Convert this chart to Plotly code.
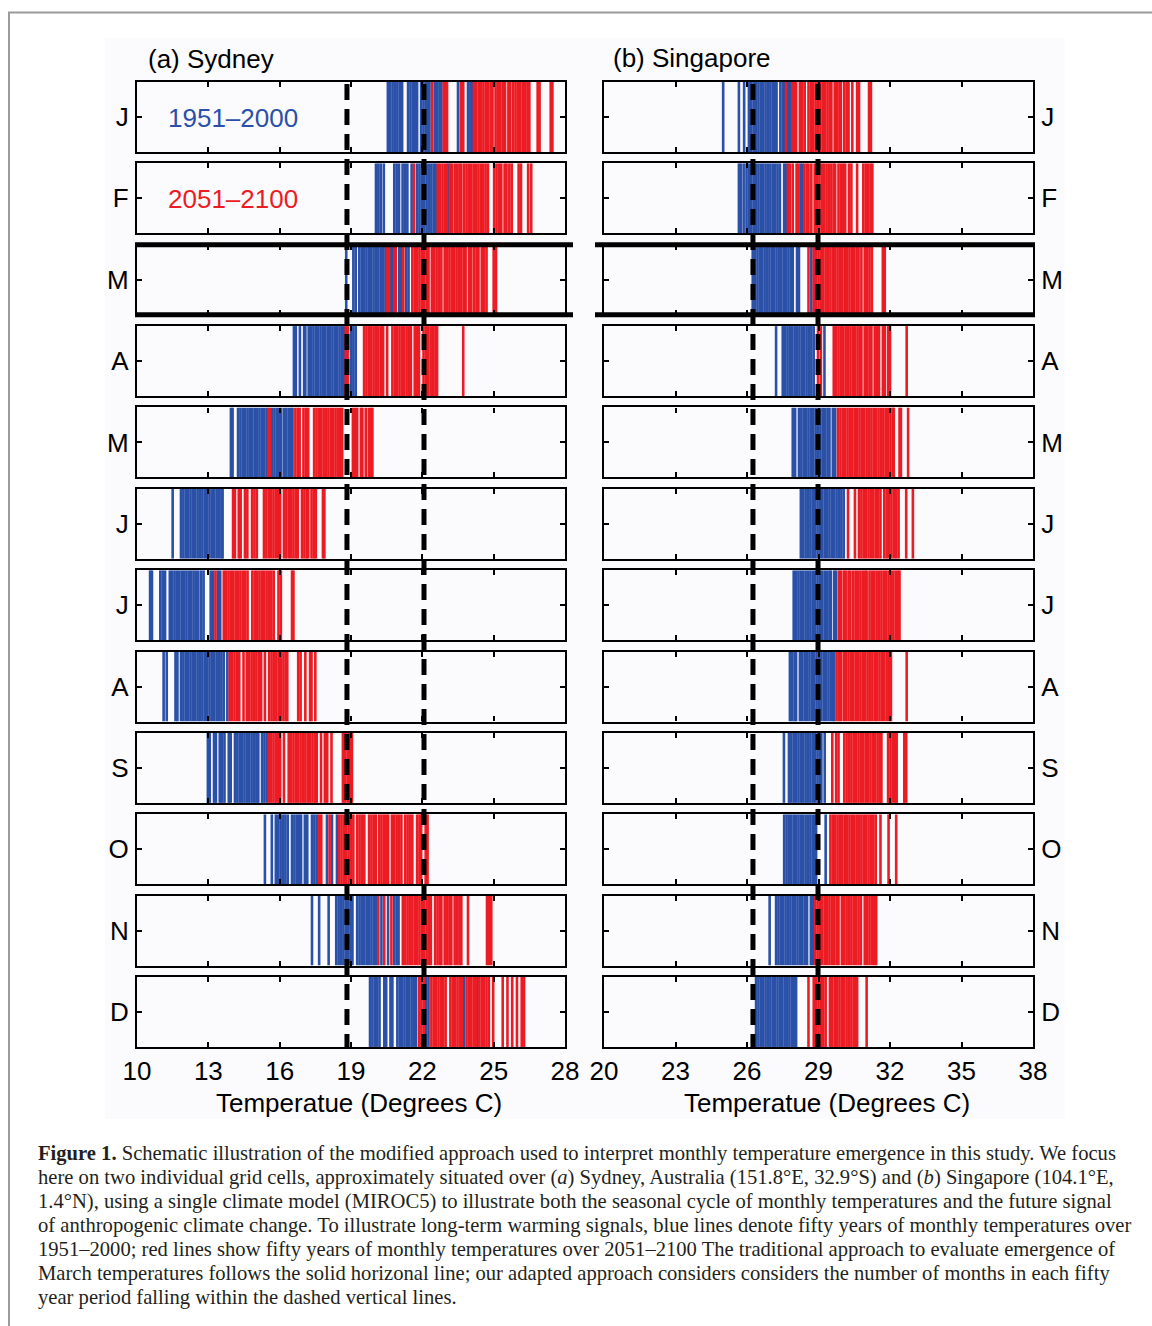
import plotly.graph_objects as go

W, H = 1152, 1326

# ---------------- data ----------------
month_labels = ["J", "F", "M", "A", "M", "J", "J", "A", "S", "O", "N", "D"]
sydney_ticks = [10, 13, 16, 19, 22, 25, 28]
singapore_ticks = [20, 23, 26, 29, 32, 35, 38]
sydney_range = [10, 28]
singapore_range = [20, 38]
sydney_dashed = [18.83, 22.07]
singapore_dashed = [26.25, 28.98]

# Sydney 1951-2000 (blue) and 2051-2100 (red), monthly temperatures (deg C)
syd_blue_jan = [20.55, 20.65, 20.75, 20.85, 20.95, 21.05, 21.15, 21.40, 21.50, 21.60, 21.70, 21.78,
                21.95, 22.05, 22.15, 22.25, 22.30, 22.52, 22.62, 22.72, 22.80, 23.50, 23.92, 24.02, 24.10]
syd_red_jan = [22.41, 22.90, 22.98, 23.04, 23.62, 23.72, 24.17, 24.27, 24.37, 24.47, 24.57, 24.67, 24.77,
               24.87, 24.95, 25.08, 25.18, 25.28, 25.38, 25.48, 25.62, 25.70, 25.82, 25.92, 26.02, 26.12,
               26.22, 26.32, 26.42, 26.50, 26.85, 26.93, 27.40, 27.47]
syd_blue_feb = [20.05, 20.15, 20.25, 20.38, 20.82, 20.92, 21.02, 21.17, 21.27, 21.37, 21.55, 21.78, 21.88,
                21.98, 22.08, 22.18, 22.28, 22.38, 22.48, 22.56, 23.10]
syd_red_feb = [21.65, 22.65, 22.75, 22.85, 22.95, 23.04, 23.18, 23.24, 23.36, 23.46, 23.56, 23.64, 23.76,
               23.86, 23.96, 24.06, 24.16, 24.26, 24.36, 24.46, 24.56, 24.66, 24.76, 25.02, 25.12, 25.22,
               25.32, 25.46, 25.54, 25.66, 25.76, 26.05, 26.15, 26.45, 26.58]
syd_blue_mar = [18.80, 19.10, 19.20, 19.35, 19.45, 19.55, 19.65, 19.75, 19.85, 19.95, 20.05, 20.15, 20.25,
                20.35, 20.45, 20.68, 20.74, 21.03, 21.10, 21.32, 21.42]
syd_red_mar = [20.53, 20.60, 20.82, 20.88, 21.20, 21.58, 21.68, 21.78, 21.88, 21.98, 22.08, 22.18, 22.26,
               22.40, 22.50, 22.60, 22.70, 22.80, 22.94, 23.04, 23.14, 23.24, 23.34, 23.44, 23.54, 23.64,
               23.74, 23.82, 23.96, 24.06, 24.18, 24.28, 24.36, 24.50, 24.60, 24.70, 25.00, 25.10]
syd_blue_apr = [16.60, 16.68, 16.85, 17.03, 17.08, 17.22, 17.32, 17.42, 17.52, 17.62, 17.72, 17.82, 17.92,
                18.02, 18.12, 18.22, 18.32, 18.42, 18.52, 18.62, 18.70, 19.00, 19.10, 19.20]
syd_red_apr = [18.78, 18.86, 19.55, 19.65, 19.75, 19.85, 19.95, 20.05, 20.15, 20.25, 20.35, 20.52, 20.74,
               20.84, 20.94, 21.04, 21.14, 21.24, 21.34, 21.44, 21.52, 21.68, 21.78, 21.86, 22.05, 22.15,
               22.25, 22.35, 22.45, 22.55, 22.62, 23.72]
syd_blue_may = [13.95, 14.02, 14.25, 14.35, 14.45, 14.55, 14.65, 14.75, 14.85, 14.95, 15.05, 15.15, 15.25,
                15.35, 15.45, 15.68, 15.78, 15.88, 15.98, 16.06, 16.18, 16.28, 16.38, 16.48, 16.54]
syd_red_may = [15.52, 15.60, 16.66, 16.76, 16.84, 17.00, 17.10, 17.20, 17.45, 17.55, 17.65, 17.75, 17.85,
               17.95, 18.05, 18.15, 18.25, 18.35, 18.45, 18.55, 18.63, 19.08, 19.18, 19.26, 19.42, 19.48,
               19.62, 19.75, 19.84, 19.90]
syd_blue_jun = [11.50, 11.85, 11.95, 12.05, 12.15, 12.25, 12.35, 12.45, 12.55, 12.65, 12.75, 12.85, 12.95,
                13.05, 13.15, 13.25, 13.35, 13.45, 13.55, 13.60]
syd_red_jun = [14.04, 14.12, 14.28, 14.36, 14.54, 14.64, 14.84, 14.94, 15.04, 15.34, 15.44, 15.54, 15.64,
               15.74, 15.84, 15.94, 16.02, 16.18, 16.28, 16.38, 16.48, 16.58, 16.68, 16.76, 16.94, 17.04,
               17.14, 17.20, 17.34, 17.44, 17.52, 17.82, 17.88]
syd_blue_jul = [10.55, 10.63, 10.98, 11.08, 11.18, 11.38, 11.48, 11.58, 11.68, 11.78, 11.88, 11.98, 12.08,
                12.18, 12.28, 12.38, 12.48, 12.58, 12.70, 12.80, 13.10, 13.20, 13.40, 13.50]
syd_red_jul = [13.30, 13.65, 13.75, 13.85, 13.95, 14.05, 14.15, 14.25, 14.35, 14.45, 14.55, 14.65, 14.85,
               14.95, 15.05, 15.15, 15.25, 15.35, 15.45, 15.55, 15.65, 15.75, 15.95, 16.05, 16.52, 16.58]
syd_blue_aug = [11.12, 11.25, 11.62, 11.70, 11.85, 11.95, 12.05, 12.15, 12.25, 12.35, 12.45, 12.55, 12.65,
                12.75, 12.85, 12.95, 13.05, 13.15, 13.25, 13.35, 13.45, 13.55, 13.65, 13.80]
syd_red_aug = [13.90, 14.00, 14.10, 14.20, 14.30, 14.48, 14.62, 14.72, 14.82, 14.92, 15.02, 15.12, 15.22,
               15.38, 15.56, 15.66, 15.76, 15.86, 15.96, 16.06, 16.16, 16.26, 16.32, 16.78, 16.88, 17.08,
               17.28, 17.34, 17.50]
syd_blue_sep = [12.98, 13.06, 13.24, 13.32, 13.48, 13.58, 13.68, 13.86, 13.94, 14.12, 14.22, 14.32, 14.42,
                14.52, 14.62, 14.72, 14.82, 14.92, 15.02, 15.10, 15.26, 15.36, 15.46]
syd_red_sep = [15.54, 15.64, 15.74, 15.84, 15.94, 16.02, 16.18, 16.38, 16.48, 16.58, 16.68, 16.78, 16.88,
               16.98, 17.08, 17.18, 17.28, 17.38, 17.48, 17.56, 17.74, 17.90, 18.00, 18.18, 18.66, 18.76,
               18.86, 18.96, 19.04]
syd_blue_oct = [15.38, 15.67, 15.84, 15.94, 16.04, 16.14, 16.24, 16.34, 16.52, 16.62, 16.72, 16.82, 16.90,
                17.06, 17.16, 17.36, 17.46, 17.56, 17.99, 18.20, 18.41]
syd_red_oct = [17.65, 17.75, 18.10, 18.50, 18.60, 18.70, 18.80, 18.90, 19.00, 19.10, 19.26, 19.36, 19.46,
               19.56, 19.76, 19.86, 19.96, 20.04, 20.18, 20.28, 20.38, 20.48, 20.56, 20.72, 20.82, 20.92,
               21.02, 21.12, 21.28, 21.38, 21.48, 21.58, 21.78, 21.88, 21.95, 22.14, 22.22]
syd_blue_nov = [17.36, 17.66, 18.06, 18.38, 18.48, 18.58, 18.68, 18.78, 18.88, 18.98, 19.06, 19.26, 19.36,
                19.46, 19.56, 19.66, 19.76, 19.86, 19.96, 20.05, 20.28, 20.56, 20.82, 20.92, 21.00]
syd_red_nov = [20.15, 20.40, 20.70, 21.18, 21.28, 21.38, 21.48, 21.58, 21.68, 21.78, 21.88, 21.98, 22.08,
               22.18, 22.28, 22.36, 22.54, 22.64, 22.74, 22.80, 22.94, 23.04, 23.14, 23.22, 23.36, 23.46,
               23.56, 23.64, 23.92, 24.72, 24.80, 24.90]
syd_blue_dec = [19.80, 19.90, 20.00, 20.10, 20.20, 20.40, 20.48, 20.66, 20.74, 20.95, 21.05, 21.15, 21.25,
                21.35, 21.45, 21.55, 21.65, 21.73, 22.16, 22.26, 23.75, 24.32]
syd_red_dec = [21.86, 21.96, 22.06, 22.38, 22.48, 22.58, 22.68, 22.78, 22.88, 22.98, 23.18, 23.28, 23.38,
               23.48, 23.58, 23.66, 23.86, 23.96, 24.06, 24.16, 24.26, 24.40, 24.50, 24.60, 24.70, 24.80,
               24.98, 25.38, 25.58, 25.78, 25.98, 26.18, 26.28]

# Singapore 1951-2000 (blue) and 2051-2100 (red)
sin_blue_jan = [25.00, 25.66, 25.88, 26.08, 26.18, 26.28, 26.38, 26.48, 26.58, 26.68, 26.78, 26.88, 26.98,
                27.08, 27.18, 27.24, 27.40, 27.50, 27.58, 27.72, 27.80]
sin_red_jan = [27.64, 27.90, 27.98, 28.06, 28.22, 28.32, 28.42, 28.58, 28.68, 28.78, 28.88, 28.98, 29.08,
               29.18, 29.28, 29.38, 29.48, 29.54, 29.68, 29.78, 29.88, 29.94, 30.08, 30.18, 30.26, 30.42,
               30.62, 30.70, 31.12, 31.20]
sin_blue_feb = [25.66, 25.74, 25.86, 25.98, 26.08, 26.18, 26.28, 26.38, 26.48, 26.58, 26.68, 26.78, 26.88,
                26.98, 27.08, 27.18, 27.28, 27.38, 27.56, 27.64, 28.25, 28.32]
sin_red_feb = [27.72, 27.80, 27.92, 28.08, 28.16, 28.40, 28.50, 28.58, 28.70, 28.84, 28.94, 29.04, 29.14,
               29.24, 29.34, 29.44, 29.54, 29.64, 29.70, 29.84, 29.94, 30.04, 30.12, 30.28, 30.38, 30.62,
               30.88, 30.98, 31.08, 31.18, 31.26]
sin_blue_mar = [26.24, 26.34, 26.44, 26.54, 26.64, 26.74, 26.84, 26.94, 27.04, 27.14, 27.24, 27.34, 27.44,
                27.54, 27.64, 27.74, 27.84, 27.92, 28.10, 28.18, 28.70]
sin_red_mar = [28.58, 28.80, 28.90, 29.00, 29.10, 29.20, 29.30, 29.40, 29.50, 29.60, 29.70, 29.80, 29.90,
               30.00, 30.10, 30.20, 30.30, 30.40, 30.50, 30.60, 30.68, 30.80, 30.94, 31.04, 31.14, 31.24,
               31.70, 31.78]
sin_blue_apr = [27.22, 27.50, 27.60, 27.70, 27.80, 27.90, 28.00, 28.10, 28.20, 28.30, 28.40, 28.50, 28.60,
                28.70, 28.80, 29.25]
sin_red_apr = [28.98, 29.10, 29.64, 29.74, 29.84, 29.94, 30.04, 30.14, 30.24, 30.34, 30.44, 30.54, 30.64,
               30.74, 30.80, 30.94, 31.04, 31.14, 31.22, 31.36, 31.46, 31.54, 31.70, 31.78, 31.92, 32.00,
               32.70]
sin_blue_may = [27.92, 28.02, 28.18, 28.28, 28.38, 28.48, 28.58, 28.68, 28.78, 28.88, 28.98, 29.08, 29.18,
                29.28, 29.38, 29.46, 29.60, 29.70]
sin_red_may = [29.82, 29.92, 30.02, 30.12, 30.22, 30.32, 30.42, 30.52, 30.62, 30.72, 30.82, 30.92, 31.02,
               31.12, 31.22, 31.32, 31.42, 31.52, 31.62, 31.72, 31.82, 31.92, 32.02, 32.12, 32.16, 32.40,
               32.46, 32.76]
sin_blue_jun = [28.26, 28.36, 28.46, 28.56, 28.66, 28.76, 28.86, 28.96, 29.06, 29.16, 29.26, 29.36, 29.46,
                29.56, 29.66, 29.76, 29.86, 29.96, 30.06]
sin_red_jun = [30.24, 30.53, 30.70, 30.80, 30.90, 31.00, 31.10, 31.20, 31.30, 31.40, 31.50, 31.60, 31.76,
               31.86, 31.96, 32.06, 32.16, 32.26, 32.36, 32.68, 32.96]
sin_blue_jul = [27.96, 28.06, 28.16, 28.26, 28.36, 28.46, 28.56, 28.66, 28.76, 28.86, 28.96, 29.06, 29.16,
                29.26, 29.36, 29.46, 29.52, 29.66, 29.74]
sin_red_jul = [29.86, 29.94, 30.06, 30.14, 30.26, 30.34, 30.46, 30.56, 30.66, 30.76, 30.86, 30.96, 31.02,
               31.14, 31.24, 31.34, 31.44, 31.54, 31.64, 31.74, 31.84, 31.94, 32.04, 32.14, 32.24, 32.34,
               32.40]
sin_blue_aug = [27.80, 27.90, 28.00, 28.06, 28.22, 28.32, 28.42, 28.52, 28.62, 28.72, 28.82, 28.92, 29.02,
                29.12, 29.22, 29.32, 29.42, 29.52, 29.62, 29.66]
sin_red_aug = [29.76, 29.86, 29.94, 30.06, 30.16, 30.26, 30.36, 30.46, 30.56, 30.66, 30.76, 30.86, 30.96,
               31.06, 31.16, 31.26, 31.36, 31.46, 31.56, 31.66, 31.76, 31.86, 31.96, 32.04, 32.70]
sin_blue_sep = [27.55, 27.76, 27.86, 27.96, 28.06, 28.16, 28.26, 28.36, 28.46, 28.56, 28.66, 28.76, 28.86,
                28.96, 29.06, 29.12, 29.26]
sin_red_sep = [29.58, 29.74, 29.84, 30.08, 30.18, 30.28, 30.38, 30.48, 30.58, 30.68, 30.78, 30.88, 30.98,
               31.08, 31.18, 31.28, 31.38, 31.48, 31.58, 31.64, 31.92, 32.02, 32.12, 32.22, 32.28, 32.60,
               32.68]
sin_blue_oct = [27.56, 27.66, 27.76, 27.86, 27.96, 28.06, 28.16, 28.26, 28.36, 28.46, 28.56, 28.66, 28.76,
                28.86, 28.90, 29.30]
sin_red_oct = [29.50, 29.60, 29.70, 29.80, 29.90, 30.00, 30.10, 30.20, 30.30, 30.40, 30.50, 30.60, 30.70,
               30.80, 30.90, 31.00, 31.10, 31.20, 31.30, 31.40, 31.60, 31.94, 32.26]
sin_blue_nov = [26.95, 27.22, 27.32, 27.42, 27.52, 27.62, 27.72, 27.82, 27.92, 28.02, 28.12, 28.22, 28.32,
                28.42, 28.52, 28.68, 28.76]
sin_red_nov = [28.86, 28.96, 29.06, 29.16, 29.26, 29.36, 29.46, 29.56, 29.66, 29.76, 29.84, 29.98, 30.08,
               30.18, 30.28, 30.38, 30.48, 30.58, 30.68, 30.78, 30.94, 31.04, 31.14, 31.24, 31.34, 31.42]
sin_blue_dec = [26.38, 26.48, 26.58, 26.68, 26.78, 26.88, 26.98, 27.08, 27.18, 27.28, 27.38, 27.48, 27.58,
                27.68, 27.78, 27.88, 27.98, 28.06]
sin_red_dec = [28.58, 28.80, 28.90, 29.00, 29.10, 29.20, 29.30, 29.48, 29.58, 29.68, 29.78, 29.88, 29.98,
               30.08, 30.18, 30.28, 30.38, 30.48, 30.58, 30.62, 31.02]

sydney_blue = [syd_blue_jan, syd_blue_feb, syd_blue_mar, syd_blue_apr, syd_blue_may, syd_blue_jun,
               syd_blue_jul, syd_blue_aug, syd_blue_sep, syd_blue_oct, syd_blue_nov, syd_blue_dec]
sydney_red = [syd_red_jan, syd_red_feb, syd_red_mar, syd_red_apr, syd_red_may, syd_red_jun,
              syd_red_jul, syd_red_aug, syd_red_sep, syd_red_oct, syd_red_nov, syd_red_dec]
singapore_blue = [sin_blue_jan, sin_blue_feb, sin_blue_mar, sin_blue_apr, sin_blue_may, sin_blue_jun,
                  sin_blue_jul, sin_blue_aug, sin_blue_sep, sin_blue_oct, sin_blue_nov, sin_blue_dec]
singapore_red = [sin_red_jan, sin_red_feb, sin_red_mar, sin_red_apr, sin_red_may, sin_red_jun,
                 sin_red_jul, sin_red_aug, sin_red_sep, sin_red_oct, sin_red_nov, sin_red_dec]

caption_lines = [
    "<b>Figure 1.</b> Schematic illustration of the modified approach used to interpret monthly temperature emergence in this study. We focus",
    "here on two individual grid cells, approximately situated over (<i>a</i>) Sydney, Australia (151.8°E, 32.9°S) and (<i>b</i>) Singapore (104.1°E,",
    "1.4°N), using a single climate model (MIROC5) to illustrate both the seasonal cycle of monthly temperatures and the future signal",
    "of anthropogenic climate change. To illustrate long-term warming signals, blue lines denote fifty years of monthly temperatures over",
    "1951–2000; red lines show fifty years of monthly temperatures over 2051–2100 The traditional approach to evaluate emergence of",
    "March temperatures follows the solid horizonal line; our adapted approach considers considers the number of months in each fifty",
    "year period falling within the dashed vertical lines.",
]

# ---------------- styling ----------------
BLUE = "#2a50a8"
RED = "#ec1c24"
SANS = "Liberation Sans, Arial, sans-serif"
SERIF = "Liberation Serif, Times New Roman, serif"


def px(xp):
    return xp / W


def py(yp):
    return 1 - yp / H


panels = [
    dict(x0=137, x1=565, rng=sydney_range, ticks=sydney_ticks, blue=sydney_blue, red=sydney_red,
         side="left", dashed=sydney_dashed),
    dict(x0=604, x1=1033, rng=singapore_range, ticks=singapore_ticks, blue=singapore_blue,
         red=singapore_red, side="right", dashed=singapore_dashed),
]
ROW_TOP0 = 82.0
ROW_PITCH = 81.36
ROW_H = 70.0

fig = go.Figure()
layout_axes = {}


def seg(vals):
    xs, ys = [], []
    for v in vals:
        xs += [v, v, None]
        ys += [0, 1, None]
    return xs, ys


n = 0
for p, pan in enumerate(panels):
    for r in range(12):
        n += 1
        xa = "x" if n == 1 else f"x{n}"
        ya = "y" if n == 1 else f"y{n}"
        top = ROW_TOP0 + r * ROW_PITCH
        bot = top + ROW_H
        for vals, col in ((pan["blue"][r], BLUE), (pan["red"][r], RED)):
            xs, ys = seg(vals)
            fig.add_trace(go.Scatter(x=xs, y=ys, mode="lines", xaxis=xa, yaxis=ya,
                                     line=dict(color=col, width=2.6), hoverinfo="skip",
                                     showlegend=False))
        xkey = "xaxis" if n == 1 else f"xaxis{n}"
        ykey = "yaxis" if n == 1 else f"yaxis{n}"
        layout_axes[xkey] = dict(
            domain=[px(pan["x0"]), px(pan["x1"])], range=pan["rng"], anchor=ya,
            tickvals=pan["ticks"], ticktext=[str(t) for t in pan["ticks"]],
            ticks="inside", ticklen=5, tickwidth=1.5, tickcolor="black",
            mirror="allticks", showline=True, linewidth=2.2, linecolor="black",
            showgrid=False, zeroline=False, showticklabels=(r == 11),
            tickfont=dict(family=SANS, size=26, color="black"), ticklabelstandoff=0,
            fixedrange=True)
        layout_axes[ykey] = dict(
            domain=[py(bot), py(top)], range=[0, 1], anchor=xa, side=pan["side"],
            tickvals=[0.5], ticktext=[month_labels[r]], ticks="inside", ticklen=5,
            tickwidth=1.5, tickcolor="black", mirror="allticks", showline=True,
            linewidth=2.2, linecolor="black", showgrid=False, zeroline=False,
            tickfont=dict(family=SANS, size=26, color="black"), ticklabelstandoff=1,
            fixedrange=True)

shapes = []
# outer grey frame
shapes.append(dict(type="line", xref="paper", yref="paper", x0=px(8), x1=px(1160), y0=py(12.5), y1=py(12.5),
                   line=dict(color="#9b9b9b", width=2)))
shapes.append(dict(type="line", xref="paper", yref="paper", x0=px(9), x1=px(9), y0=py(12), y1=py(1340),
                   line=dict(color="#9b9b9b", width=2)))
# figure background
shapes.append(dict(type="rect", xref="paper", yref="paper", x0=px(105), x1=px(1065), y0=py(1119), y1=py(38),
                   fillcolor="#fbfbfe", line=dict(width=0), layer="below"))
# dashed vertical lines
for xa, pan in (("x", panels[0]), ("x13", panels[1])):
    for d in pan["dashed"]:
        shapes.append(dict(type="line", xref=xa, yref="paper", x0=d, x1=d, y0=py(84), y1=py(1047),
                           line=dict(color="black", width=5, dash="16px,9px"), layer="above"))
# thick horizontal lines around March
mar_top = ROW_TOP0 + 2 * ROW_PITCH
mar_bot = mar_top + ROW_H
for (a, b) in ((135, 573), (595, 1035)):
    for yy in (mar_top, mar_bot):
        shapes.append(dict(type="line", xref="paper", yref="paper", x0=px(a), x1=px(b), y0=py(yy), y1=py(yy),
                           line=dict(color="black", width=5), layer="above"))

annotations = []


def ann(text, x, y, size=26, color="black", xanchor="left", family=SANS):
    annotations.append(dict(text=text, x=px(x), y=py(y), xref="paper", yref="paper", showarrow=False,
                            xanchor=xanchor, yanchor="middle", font=dict(family=family, size=size, color=color)))


ann("(a) Sydney", 146, 59)
ann("(b) Singapore", 611, 58)
ann("1951–2000", 166, 118, color=BLUE)
ann("2051–2100", 166, 199, color=RED)
ann("Temperatue (Degrees C)", 359, 1103, xanchor="center")
ann("Temperatue (Degrees C)", 827, 1103, xanchor="center")
for i, line in enumerate(caption_lines):
    ann(line, 36, 1153 + 24 * i, size=20.6, color="#231f20", family=SERIF)

fig.update_layout(
    width=W, height=H, margin=dict(l=0, r=0, t=0, b=0, pad=0, autoexpand=False),
    paper_bgcolor="white", plot_bgcolor="#fdfdfe", showlegend=False,
    shapes=shapes, annotations=annotations, **layout_axes)

fig.write_html("out.html", config={"displayModeBar": False},
               post_script="document.body.style.margin='0';document.body.style.overflow='hidden';")
